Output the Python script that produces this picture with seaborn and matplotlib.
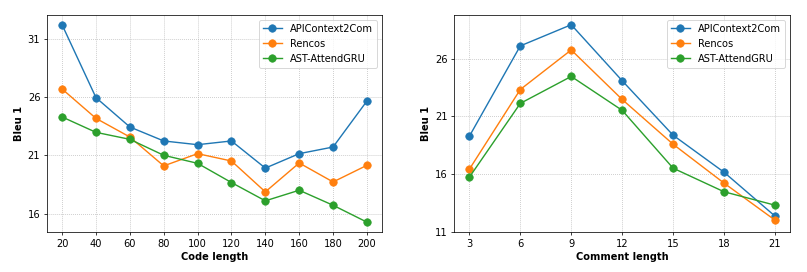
import matplotlib
matplotlib.use("Agg")
import matplotlib.pyplot as plt
import seaborn as sns
import pandas as pd

models = ["APIContext2Com", "Rencos", "AST-AttendGRU"]

code_len = [20, 40, 60, 80, 100, 120, 140, 160, 180, 200]
code_api = [32.2, 25.95, 23.43, 22.23, 21.91, 22.23, 19.9, 21.14, 21.71, 25.66]
code_rencos = [26.69, 24.17, 22.57, 20.09, 21.14, 20.51, 17.86, 20.34, 18.71, 20.14]
code_ast = [24.29, 22.97, 22.37, 21.0, 20.31, 18.66, 17.09, 18.0, 16.71, 15.26]

com_len = [3, 6, 9, 12, 15, 18, 21]
com_api = [19.28, 27.09, 28.92, 24.08, 19.37, 16.17, 12.38]
com_rencos = [16.43, 23.32, 26.74, 22.46, 18.59, 15.23, 12.03]
com_ast = [15.74, 22.12, 24.45, 21.52, 16.52, 14.48, 13.32]

code_yticks = [16, 21, 26, 31]
com_yticks = [11, 16, 21, 26]


def long_df(x, series):
    rows = []
    for name, vals in zip(models, series):
        for xi, v in zip(x, vals):
            rows.append({"x": xi, "y": v, "model": name})
    return pd.DataFrame(rows)


df_code = long_df(code_len, [code_api, code_rencos, code_ast])
df_com = long_df(com_len, [com_api, com_rencos, com_ast])

palette = ["#1f77b4", "#ff7f0e", "#2ca02c"]
plt.rcParams["font.size"] = 10.6

fig = plt.figure(figsize=(12, 272 / 67.333), dpi=67.333)
ax1 = fig.add_axes([0.058, 0.147, 0.415, 0.798])
ax2 = fig.add_axes([0.562, 0.147, 0.416, 0.798])


def draw(ax, df, xticks, yticks, xlabel):
    sns.lineplot(data=df, x="x", y="y", hue="model", hue_order=models,
                 palette=palette, marker="o", markersize=8, linewidth=1.5,
                 legend=False, ax=ax)
    for ln in ax.get_lines():
        ln.set_markeredgecolor(ln.get_color())
        ln.set_markerfacecolor(ln.get_color())
    ax.set_xticks(xticks)
    ax.set_yticks(yticks)
    ax.grid(True, linestyle=":", color="#b0b0b0", linewidth=0.8)
    ax.set_xlabel(xlabel, fontweight="bold", fontsize=10.6)
    ax.set_ylabel("Bleu 1", fontweight="bold", fontsize=10.6)
    ax.legend(ax.get_lines(), models, loc="upper right", fontsize=10.6)


draw(ax1, df_code, code_len, code_yticks, "Code length")
draw(ax2, df_com, com_len, com_yticks, "Comment length")
ax2.set_ylim(bottom=11)

fig.savefig("out.png", dpi=67.333)
